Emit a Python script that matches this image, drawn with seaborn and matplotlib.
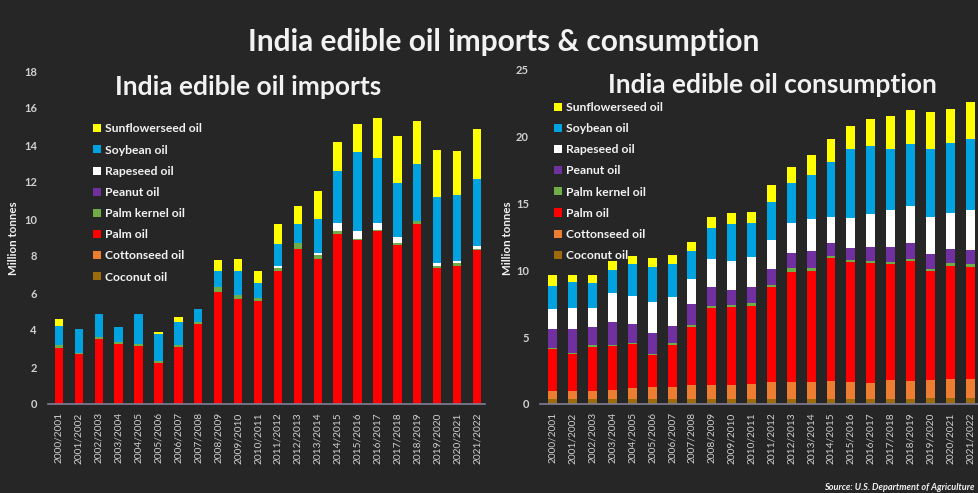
import matplotlib
matplotlib.use("Agg")
import matplotlib.pyplot as plt
from matplotlib.patches import Patch
import seaborn as sns
import pandas as pd
import numpy as np

# ---------------- data ----------------
years = ["2000/2001", "2001/2002", "2002/2003", "2003/2004", "2004/2005", "2005/2006",
         "2006/2007", "2007/2008", "2008/2009", "2009/2010", "2010/2011", "2011/2012",
         "2012/2013", "2013/2014", "2014/2015", "2015/2016", "2016/2017", "2017/2018",
         "2018/2019", "2019/2020", "2020/2021", "2021/2022"]

oils = ["Coconut oil", "Cottonseed oil", "Palm oil", "Palm kernel oil",
        "Peanut oil", "Rapeseed oil", "Soybean oil", "Sunflowerseed oil"]
oil_colors = ["#9C6B0E", "#ED7D31", "#FF0000", "#70AD47",
              "#7030A0", "#FFFFFF", "#00A2E0", "#FFFF00"]

# Imports (million tonnes)
imp_coconut = [0.0] * 22
imp_cotton = [0.0] * 22
imp_palm = [3.04, 2.72, 3.51, 3.26, 3.14, 2.22, 3.08, 4.31, 6.07, 5.66, 5.58,
            7.20, 8.36, 7.84, 9.17, 8.86, 9.37, 8.61, 9.73, 7.37, 7.48, 8.32]
imp_kernel = [0.15, 0.05, 0.09, 0.09, 0.08, 0.08, 0.09, 0.12, 0.27, 0.23, 0.13,
              0.13, 0.32, 0.20, 0.18, 0.08, 0.04, 0.11, 0.18, 0.11, 0.12, 0.07]
imp_peanut = [0.0] * 22
imp_rape = [0, 0, 0, 0, 0, 0, 0, 0, 0, 0, 0,
            0.15, 0, 0.12, 0.42, 0.43, 0.40, 0.32, 0, 0.12, 0.13, 0.17]
imp_soy = [1.03, 1.27, 1.26, 0.79, 1.63, 1.50, 1.28, 0.71, 0.85, 1.30, 0.81,
           1.17, 1.05, 1.82, 2.82, 4.27, 3.51, 2.92, 3.05, 3.61, 3.57, 3.60]
imp_sun = [0.39, 0, 0.03, 0.04, 0, 0.07, 0.23, 0, 0.59, 0.63, 0.67,
           1.06, 0.99, 1.53, 1.59, 1.50, 2.12, 2.54, 2.34, 2.52, 2.38, 2.70]

# Consumption (million tonnes)
con_coconut = [0.35, 0.35, 0.35, 0.37, 0.35, 0.35, 0.35, 0.37, 0.37, 0.39, 0.35,
               0.40, 0.40, 0.40, 0.40, 0.40, 0.40, 0.40, 0.40, 0.42, 0.42, 0.42]
con_cotton = [0.62, 0.62, 0.62, 0.68, 0.87, 0.92, 0.92, 1.05, 1.05, 1.05, 1.15,
              1.25, 1.25, 1.27, 1.35, 1.27, 1.15, 1.40, 1.32, 1.38, 1.43, 1.43]
con_palm = [3.13, 2.77, 3.32, 3.29, 3.25, 2.37, 3.14, 4.36, 5.74, 5.79, 5.83,
            7.08, 8.20, 8.30, 9.15, 8.98, 9.02, 8.69, 8.97, 8.15, 8.47, 8.42]
con_kernel = [0.10, 0.08, 0.10, 0.10, 0.10, 0.13, 0.13, 0.12, 0.17, 0.17, 0.20,
              0.17, 0.32, 0.23, 0.17, 0.12, 0.13, 0.16, 0.16, 0.15, 0.20, 0.20]
con_peanut = [1.38, 1.76, 1.39, 1.71, 1.41, 1.52, 1.32, 1.56, 1.44, 1.13, 1.20,
              1.22, 1.10, 1.22, 0.99, 0.88, 1.07, 1.07, 1.17, 1.12, 1.05, 1.05]
con_rape = [1.55, 1.58, 1.42, 2.17, 2.10, 2.37, 2.17, 1.89, 2.08, 2.17, 2.24,
            2.15, 2.29, 2.39, 1.95, 2.28, 2.42, 2.79, 2.79, 2.79, 2.74, 2.99]
con_soy = [1.70, 1.99, 1.83, 1.70, 2.37, 2.61, 2.42, 2.09, 2.29, 2.77, 2.55,
           2.84, 2.95, 3.32, 4.07, 5.15, 5.14, 4.57, 4.64, 5.07, 5.26, 5.36]
con_sun = [0.82, 0.50, 0.62, 0.68, 0.65, 0.67, 0.70, 0.65, 0.82, 0.84, 0.84,
           1.25, 1.24, 1.49, 1.72, 1.74, 1.99, 2.49, 2.59, 2.76, 2.52, 2.70]

imports = [imp_coconut, imp_cotton, imp_palm, imp_kernel, imp_peanut, imp_rape, imp_soy, imp_sun]
consumption = [con_coconut, con_cotton, con_palm, con_kernel, con_peanut, con_rape, con_soy, con_sun]

# ---------------- style ----------------
BG = "#262626"
TXT = "#F2F2F2"
TICK = "#D0D0D0"
sns.set_theme(style="dark")
plt.rcParams["font.family"] = ["Lato", "DejaVu Sans"]
plt.rcParams["font.weight"] = "bold"

W, H = 979, 493
fig = plt.figure(figsize=(W / 100, H / 100), dpi=100, facecolor=BG)


def stacked(ax, layers, width):
    cum = np.cumsum(np.array(layers, dtype=float), axis=0)
    # draw from the top layer down so each lower segment overlays the cumulative total
    for i in range(len(layers) - 1, -1, -1):
        df = pd.DataFrame({"year": years, "value": cum[i]})
        sns.barplot(data=df, x="year", y="value", order=years, color=oil_colors[i],
                    saturation=1, width=width, ax=ax, errorbar=None, linewidth=0)


def style_axes(ax, ymax, yticks, xlim):
    ax.set_facecolor(BG)
    ax.set_ylim(0, ymax)
    ax.set_xlim(*xlim)
    ax.set_yticks(yticks)
    ax.set_yticklabels([str(t) for t in yticks], fontsize=8, color=TICK, fontweight="bold")
    ax.set_xticks(range(len(years)))
    ax.set_xticklabels(years, rotation=90, fontsize=7.3, color=TICK, fontweight="normal")
    ax.tick_params(axis="y", length=0, pad=8)
    ax.tick_params(axis="x", length=0, pad=6)
    ax.set_xlabel("")
    ax.set_ylabel("")
    ax.grid(False)
    for s in ["top", "right", "left"]:
        ax.spines[s].set_visible(False)
    ax.spines["bottom"].set_color("#7F7F95")
    ax.spines["bottom"].set_linewidth(1.2)


# Left: imports
axL = fig.add_axes([48 / W, 1 - 404 / H, (485 - 48) / W, (404 - 71) / H])
stacked(axL, imports, 0.42)
style_axes(axL, 18, list(range(0, 19, 2)), (-0.55, 21.4))

# Right: consumption
axR = fig.add_axes([540 / W, 1 - 404 / H, (W - 540) / W, (404 - 70) / H])
stacked(axR, consumption, 0.45)
style_axes(axR, 25, list(range(0, 26, 5)), (-0.65, 21.45))

# Legends
handles = [Patch(facecolor=c, edgecolor="none") for c in oil_colors][::-1]
labels = oils[::-1]
for ax, (lx, ly) in [(axL, (93 / W, 1 - 123.5 / H)), (axR, (554 / W, 1 - 102 / H))]:
    leg = ax.legend(handles, labels, loc="upper left", bbox_to_anchor=(lx, ly),
                    bbox_transform=fig.transFigure, frameon=False, fontsize=8.7,
                    handlelength=0.65, handleheight=0.65, handletextpad=0.35,
                    labelspacing=0.84, borderpad=0, borderaxespad=0)
    for t in leg.get_texts():
        t.set_color(TXT)
        t.set_fontweight("bold")

# Titles
fig.text(504 / W, 1 - 42 / H, "India edible oil imports & consumption", ha="center", va="center",
         fontsize=21.5, fontweight="bold", color=TXT)
fig.text(248 / W, 1 - 87 / H, "India edible oil imports", ha="center", va="center",
         fontsize=19, fontweight="bold", color=TXT)
fig.text(772 / W, 1 - 85 / H, "India edible oil consumption", ha="center", va="center",
         fontsize=19, fontweight="bold", color=TXT)

# Y labels
fig.text(14 / W, 1 - 238 / H, "Million tonnes", rotation=90, ha="center", va="center",
         fontsize=8.3, fontweight="bold", color=TXT)
fig.text(508 / W, 1 - 238 / H, "Million tonnes", rotation=90, ha="center", va="center",
         fontsize=8.3, fontweight="bold", color=TXT)

# Source
fig.text(975 / W, 1 - 488 / H, "Source: U.S. Department of Agriculture", ha="right", va="center",
         fontsize=6.6, fontstyle="italic", fontweight="bold", color=TXT)

fig.savefig("out.png", dpi=100, facecolor=BG)
